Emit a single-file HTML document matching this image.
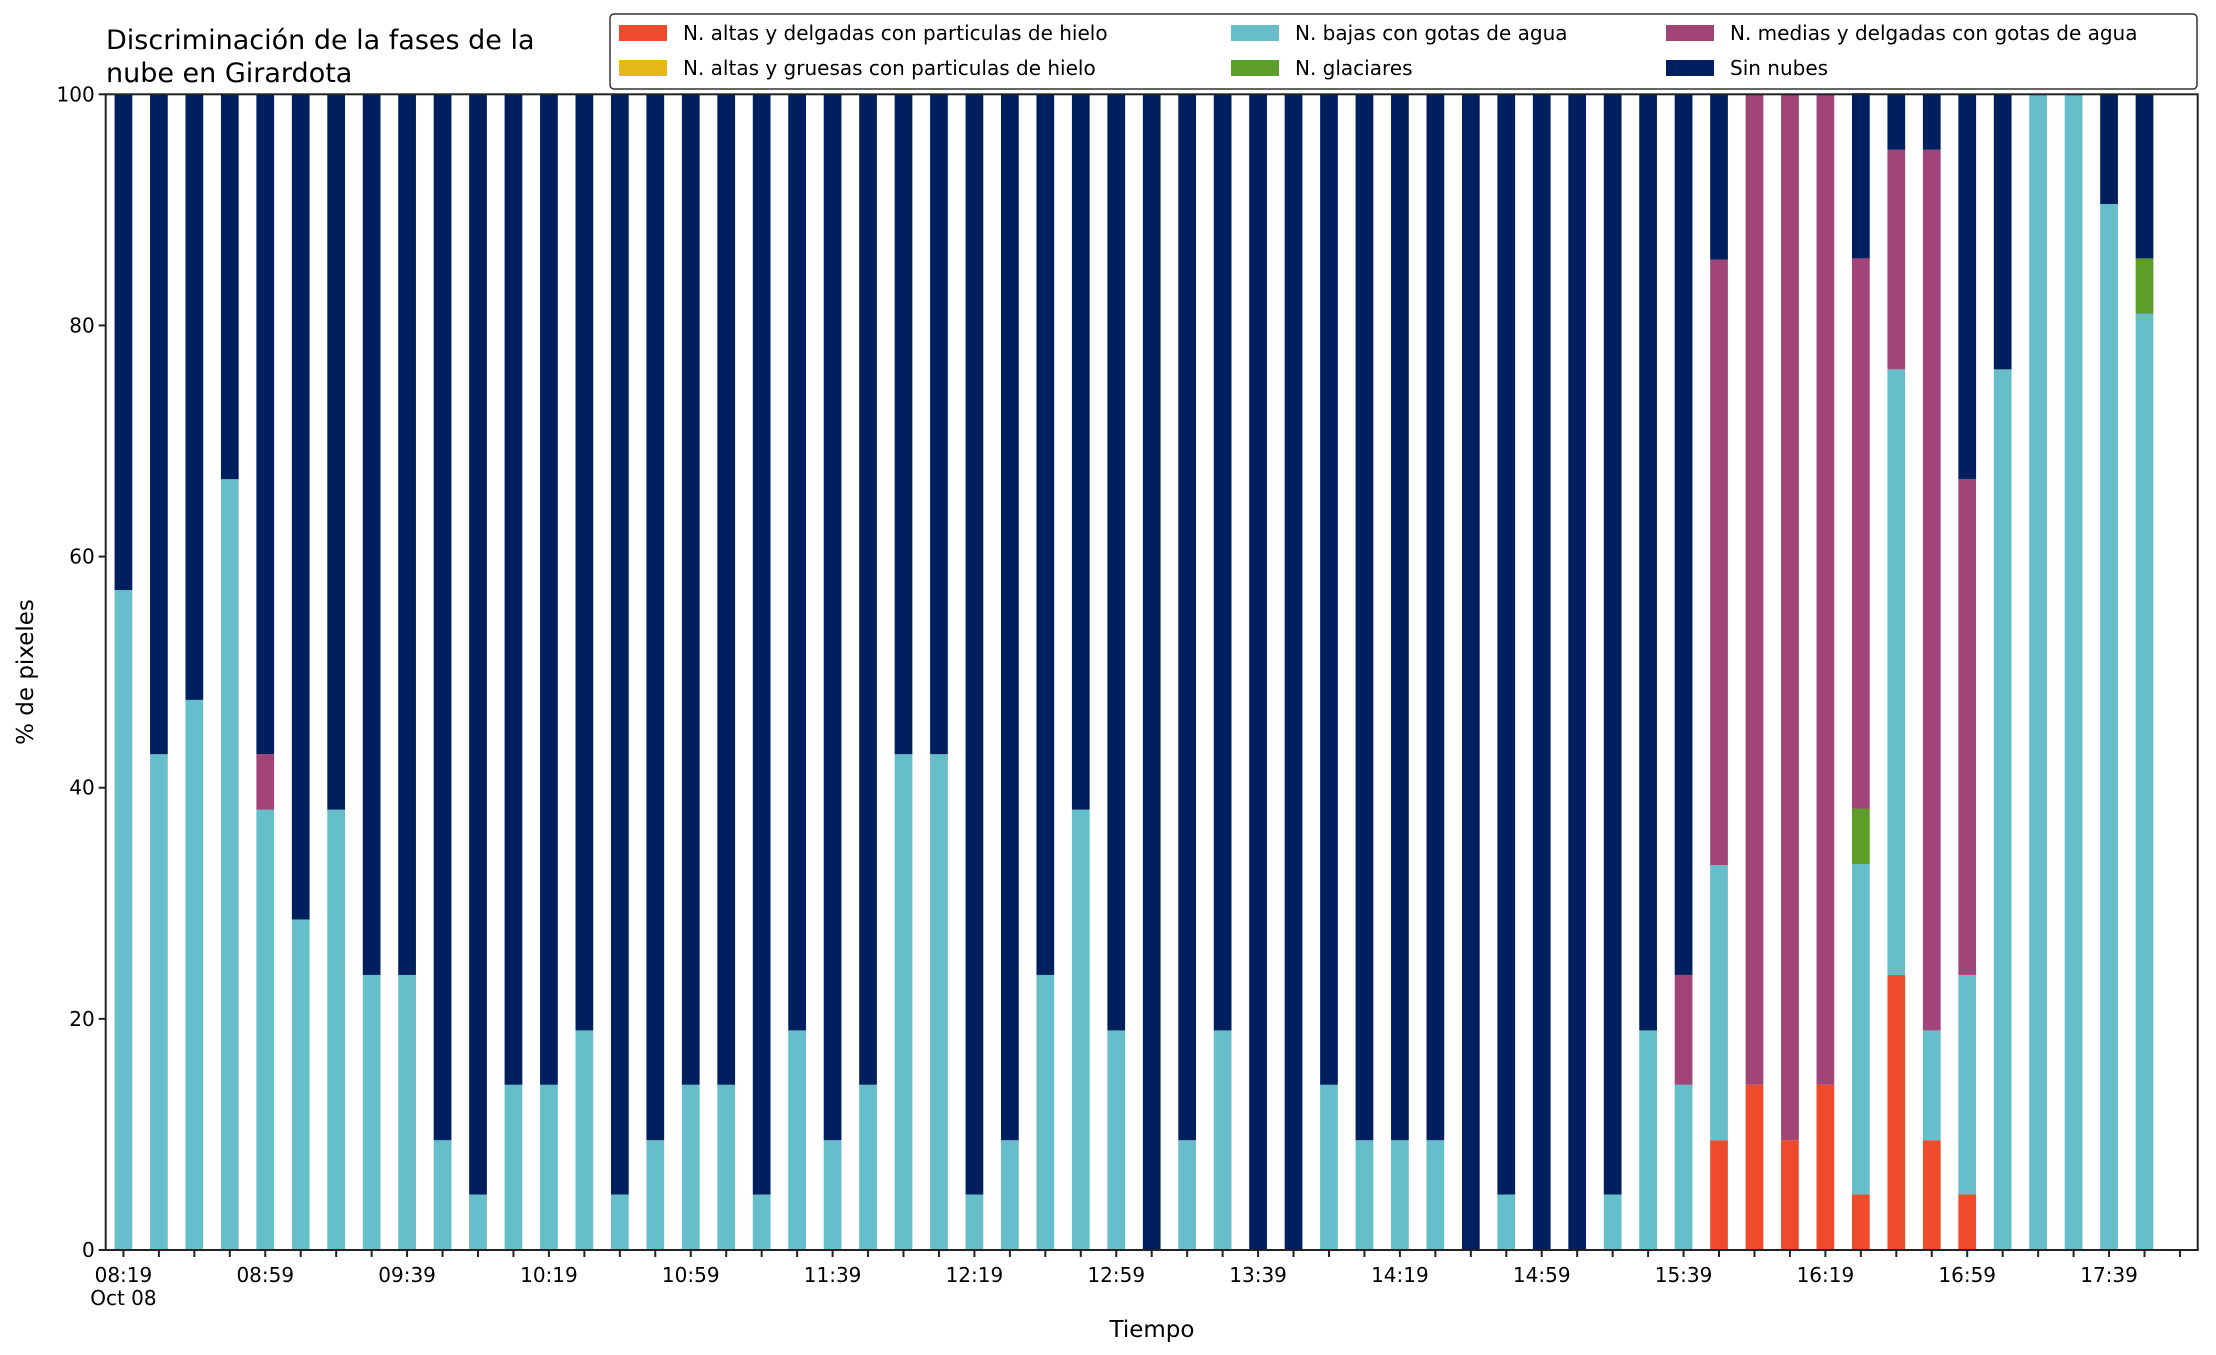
<!DOCTYPE html>
<html><head><meta charset="utf-8"><style>
html,body{margin:0;padding:0;background:#fff;}
svg{display:block;font-family:"DejaVu Sans","Liberation Sans",sans-serif;}
</style></head><body>
<svg id="chart" width="2216" height="1355" viewBox="0 0 2216 1355" xmlns="http://www.w3.org/2000/svg">
<rect x="0" y="0" width="2216" height="1355" fill="#fff"/>
<text x="106" y="49" font-size="27" fill="#000">Discriminación de la fases de la</text>
<text x="106" y="82" font-size="27" fill="#000">nube en Girardota</text>
<g id="bars"></g>
<g id="axes"></g>
<text x="1152" y="1337" font-size="23" text-anchor="middle">Tiempo</text>
<text transform="translate(33,672) rotate(-90)" font-size="23" text-anchor="middle">% de pixeles</text>
<g id="legend"></g>
</svg>
<script>
const labels = ["08:19","","","","08:59","","","","09:39","","","","10:19","","","","10:59","","","","11:39","","","","12:19","","","","12:59","","","","13:39","","","","14:19","","","","14:59","","","","15:39","","","","16:19","","","","16:59","","","","17:39","",""];
const yTicks = [0,20,40,60,80,100];
const seriesNames = ["N. altas y delgadas con particulas de hielo","N. altas y gruesas con particulas de hielo","N. bajas con gotas de agua","N. glaciares","N. medias y delgadas con gotas de agua","Sin nubes"];
const seriesColors = ["#ee4a2c","#e5b717","#65bec9","#5c9e28","#a14477","#001f5e"];
const altasDelgadas = [0,0,0,0,0,0,0,0,0,0,0,0,0,0,0,0,0,0,0,0,0,0,0,0,0,0,0,0,0,0,0,0,0,0,0,0,0,0,0,0,0,0,0,0,0,9.5,14.3,9.5,14.3,4.8,23.8,9.5,4.8,0,0,0,0,0,null];
const altasGruesas = [0,0,0,0,0,0,0,0,0,0,0,0,0,0,0,0,0,0,0,0,0,0,0,0,0,0,0,0,0,0,0,0,0,0,0,0,0,0,0,0,0,0,0,0,0,0,0,0,0,0,0,0,0,0,0,0,0,0,null];
const bajas = [57.1,42.9,47.6,66.7,38.1,28.6,38.1,23.8,23.8,9.5,4.8,14.3,14.3,19.0,4.8,9.5,14.3,14.3,4.8,19.0,9.5,14.3,42.9,42.9,4.8,9.5,23.8,38.1,19.0,0,9.5,19.0,0,0,14.3,9.5,9.5,9.5,0,4.8,0,0,4.8,19.0,14.3,23.8,0,0,0,28.6,52.4,9.5,19.0,76.2,100,100,90.5,81.0,null];
const glaciares = [0,0,0,0,0,0,0,0,0,0,0,0,0,0,0,0,0,0,0,0,0,0,0,0,0,0,0,0,0,0,0,0,0,0,0,0,0,0,0,0,0,0,0,0,0,0,0,0,0,4.8,0,0,0,0,0,0,0,4.8,null];
const medias = [0,0,0,0,4.8,0,0,0,0,0,0,0,0,0,0,0,0,0,0,0,0,0,0,0,0,0,0,0,0,0,0,0,0,0,0,0,0,0,0,0,0,0,0,0,9.5,52.4,85.7,90.5,85.7,47.6,19.0,76.2,42.9,0,0,0,0,0,null];
const sinNubes = [42.9,57.1,52.4,33.3,57.1,71.4,61.9,76.2,76.2,90.5,95.2,85.7,85.7,81.0,95.2,90.5,85.7,85.7,95.2,81.0,90.5,85.7,57.1,57.1,95.2,90.5,76.2,61.9,81.0,100,90.5,81.0,100,100,85.7,90.5,90.5,90.5,100,95.2,100,100,95.2,81.0,76.2,14.3,0,0,0,14.3,4.8,4.8,33.3,23.8,0,0,9.5,14.2,null];
const series = [altasDelgadas, altasGruesas, bajas, glaciares, medias, sinNubes];

const NS="http://www.w3.org/2000/svg";
const L=105.7,R=2197.7,T=94.3,B=1250;
const n=labels.length;
const step=(R-L)/n;
const xC=i=>L+step*(i+0.5);
const yS=v=>B-(v/100)*(B-T);
function mk(tag,attrs,parent){const e=document.createElementNS(NS,tag);for(const k in attrs)e.setAttribute(k,attrs[k]);parent.appendChild(e);return e;}
const gb=document.getElementById('bars');
const bw=step*0.5;
for(let i=0;i<n;i++){
  let acc=0;
  for(let s=0;s<series.length;s++){
    const v=series[s][i];
    if(v==null||v<=0)continue;
    const r=mk('rect',{x:xC(i)-bw/2,y:yS(acc+v),width:bw,height:yS(acc)-yS(acc+v),fill:seriesColors[s]},gb);
    
    
    acc+=v;
  }
}
const ga=document.getElementById('axes');
const frame=mk('rect',{x:L,y:T,width:R-L,height:B-T,fill:'none',stroke:'#222','stroke-width':2},ga);


for(const t of yTicks){
  const y=yS(t);
  const tk=mk('line',{x1:L-7,x2:L,y1:y,y2:y,stroke:'#222','stroke-width':2},ga);
  
  
  const tl=mk('text',{x:L-11,y:y+7,'font-size':20,'text-anchor':'end'},ga);
  tl.textContent=t;
  
  
}
for(let i=0;i<n;i++){
  const x=xC(i);
  const tk=mk('line',{x1:x,x2:x,y1:B,y2:B+7,stroke:'#222','stroke-width':2},ga);
  
  
  if(labels[i]){
    const tl=mk('text',{x:x,y:1282,'font-size':20,'text-anchor':'middle'},ga);
    tl.textContent=labels[i];
    
    
  }
}
const od=mk('text',{x:xC(0),y:1305,'font-size':20,'text-anchor':'middle'},ga);
od.textContent='Oct 08';



const gl=document.getElementById('legend');
const lb=mk('rect',{x:610,y:14,width:1587,height:75,rx:4,fill:'#fff',stroke:'#333','stroke-width':1.5},gl);


const colX=[619,1231,1666];
const rowY=[33,68];
const order=[0,1,2,3,4,5];
order.forEach((s,k)=>{
  const c=Math.floor(k/2), r=k%2;
  const sw=mk('rect',{x:colX[c],y:rowY[r]-8,width:48,height:16,fill:seriesColors[s]},gl);
  
  
  const t=mk('text',{x:colX[c]+64,y:rowY[r]+7,'font-size':20},gl);
  t.textContent=seriesNames[s];
  
  
});
</script>
</body></html>
